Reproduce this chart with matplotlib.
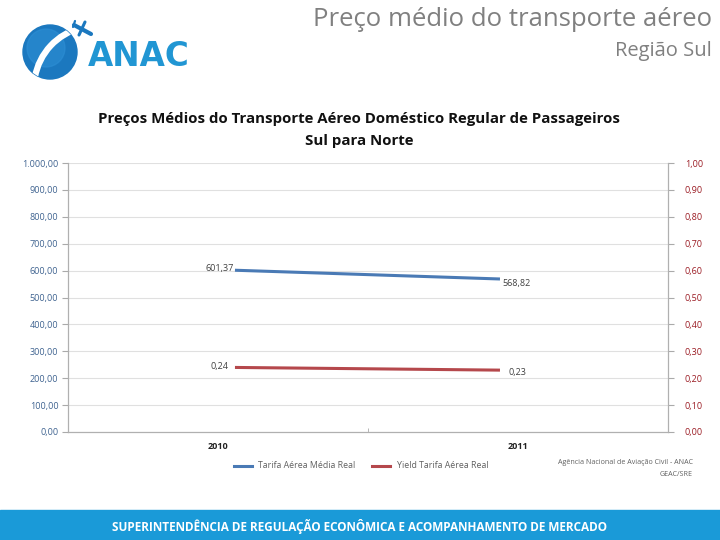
import matplotlib
matplotlib.use("Agg")
import matplotlib.pyplot as plt
from matplotlib.patches import Circle, Arc, Rectangle
from matplotlib.ticker import FuncFormatter, MultipleLocator

# ---- data ----
years = ["2010", "2011"]
tarifa = [601.37, 568.82]
yield_tarifa = [0.24, 0.23]
series_names = ["Tarifa Aérea Média Real", "Yield Tarifa Aérea Real"]

BLUE = "#4a7ab5"
RED = "#b5484c"
FONT = ["Open Sans", "DejaVu Sans"]
plt.rcParams["font.family"] = FONT


def br(v, dec=2):
    s = f"{v:,.{dec}f}"
    return s.replace(",", "X").replace(".", ",").replace("X", ".")


fig = plt.figure(figsize=(7.2, 5.4), dpi=100)
fig.patch.set_facecolor("white")

# ---- main chart ----
ax = fig.add_axes([68 / 720, 1 - 432 / 540, 600 / 720, 269 / 540])
ax2 = ax.twinx()

x = list(range(len(years)))
ax.plot(x, tarifa, color=BLUE, lw=2.2, solid_capstyle="butt")
ax2.plot(x, yield_tarifa, color=RED, lw=2.2, solid_capstyle="butt")

left = -0.63
right = 1.634
ax.set_xlim(left, right)
w = right - left
group_centers = [left + w / 4, left + 3 * w / 4]
ax.set_xticks(group_centers)
ax.set_xticklabels(years, fontsize=6.5, fontweight="bold", color="#222222")
ax.set_xticks([left + w / 2], minor=True)
ax.tick_params(axis="x", which="major", length=0, pad=7)
ax.tick_params(axis="x", which="minor", length=3, direction="in", color="#aaaaaa")

ax.set_ylim(0, 1000)
ax.yaxis.set_major_locator(MultipleLocator(100))
ax.yaxis.set_major_formatter(FuncFormatter(lambda v, p: br(v)))
ax.tick_params(axis="y", labelsize=6.5, labelcolor="#3f6390", length=4,
               color="#aaaaaa", pad=3)
ax.grid(axis="y", color="#e0e0e0", lw=0.8)
ax.set_axisbelow(True)

ax2.set_ylim(0, 1)
ax2.yaxis.set_major_locator(MultipleLocator(0.1))
ax2.yaxis.set_major_formatter(FuncFormatter(lambda v, p: br(v)))
ax2.tick_params(axis="y", labelsize=6.5, labelcolor="#9b1c24", length=4,
                color="#aaaaaa", pad=8)

for a in (ax, ax2):
    a.spines["top"].set_visible(False)
    for s in ("left", "right", "bottom"):
        a.spines[s].set_color("#b0b0b0")
        a.spines[s].set_linewidth(0.8)

# data labels
lab_kw = dict(fontsize=6.5, color="#404040")
ax.annotate(br(tarifa[0]), (x[0], tarifa[0]), xytext=(-1, 1), textcoords="offset points",
            ha="right", va="center", **lab_kw)
ax.annotate(br(tarifa[1]), (x[1], tarifa[1]), xytext=(2, -3), textcoords="offset points",
            ha="left", va="center", **lab_kw)
ax2.annotate(br(yield_tarifa[0]), (x[0], yield_tarifa[0]), xytext=(-5, 1),
             textcoords="offset points", ha="right", va="center", **lab_kw)
ax2.annotate(br(yield_tarifa[1]), (x[1], yield_tarifa[1]), xytext=(6, -2),
             textcoords="offset points", ha="left", va="center", **lab_kw)

# ---- overlay for slide elements ----
top = fig.add_axes([0, 0, 1, 1], zorder=5)
top.set_xlim(0, 720)
top.set_ylim(540, 0)
top.axis("off")
top.patch.set_alpha(0)

# chart title
top.text(359, 119, "Preços Médios do Transporte Aéreo Doméstico Regular de Passageiros",
         ha="center", va="center", fontsize=10.8, fontweight="bold", color="#111111")
top.text(359, 141, "Sul para Norte", ha="center", va="center", fontsize=10.8,
         fontweight="bold", color="#111111")

# legend
top.plot([234, 252], [466, 466], color=BLUE, lw=2.2)
top.text(258, 466, series_names[0], ha="left", va="center", fontsize=6.3, color="#606060")
top.plot([372, 390], [466, 466], color=RED, lw=2.2)
top.text(397, 466, series_names[1], ha="left", va="center", fontsize=6.3, color="#606060")

# source
top.text(693, 463, "Agência Nacional de Aviação Civil - ANAC", ha="right", va="center",
         fontsize=5.1, color="#606060")
top.text(693, 474, "GEAC/SRE", ha="right", va="center", fontsize=5.1, color="#606060")

# slide titles
top.text(712, 20, "Preço médio do transporte aéreo", ha="right", va="center",
         fontsize=18.5, color="#808080")
top.text(712, 51, "Região Sul", ha="right", va="center", fontsize=14.5, color="#808080")

# footer bar
top.add_patch(Rectangle((0, 510), 720, 30, color="#1a9ad8", zorder=1))
top.text(360, 527, "SUPERINTENDÊNCIA DE REGULAÇÃO ECONÔMICA E ACOMPANHAMENTO DE MERCADO",
         ha="center", va="center", fontsize=8.5, color="white", fontweight="bold", zorder=2)

# logo
globe = Circle((50, 52), 27, color="#1b78bf", zorder=2)
top.add_patch(globe)
inner = Circle((46, 48), 19, color="#2e90d6", zorder=2, alpha=0.55)
top.add_patch(inner)
sw = Arc((96, 88), 124, 124, theta1=190, theta2=256, color="white", lw=4.5, zorder=3)
top.add_patch(sw)
sw.set_clip_path(globe)
top.plot([74, 91], [25, 34], color="#1b78bf", lw=3, solid_capstyle="round", zorder=3)
top.plot([79, 85], [35, 22], color="#1b78bf", lw=2.2, solid_capstyle="round", zorder=3)
top.plot([73, 75], [27, 21], color="#1b78bf", lw=1.6, solid_capstyle="round", zorder=3)
top.text(88, 56, "ANAC", ha="left", va="center", fontsize=23.5, fontweight="bold",
         color="#2196d3", family=["DejaVu Sans"], zorder=3)

fig.savefig("out.png", dpi=100, facecolor="white")
